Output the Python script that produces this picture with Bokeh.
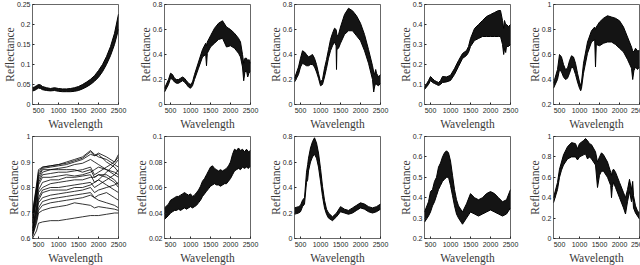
from bokeh.plotting import figure
from bokeh.layouts import gridplot
from bokeh.models import FixedTicker, Range1d
from bokeh.embed import file_html
from bokeh.resources import INLINE

# ---------------- data ----------------
WL_TICKS = [500, 1000, 1500, 2000, 2500]
WL_LABELS = ["500", "1000", "1500", "2000", "2500"]

# Panel 1
W1 = [350, 400, 450, 500, 550, 600, 700, 800, 900, 1000, 1100, 1200, 1300, 1400, 1500, 1600, 1700, 1800, 1900, 2000, 2100, 2200, 2300, 2400, 2500]
LO1 = [0.034, 0.035, 0.038, 0.041, 0.040, 0.037, 0.035, 0.034, 0.035, 0.033, 0.032, 0.032, 0.032, 0.033, 0.035, 0.039, 0.044, 0.050, 0.058, 0.068, 0.082, 0.100, 0.122, 0.150, 0.188]
HI1 = [0.042, 0.044, 0.047, 0.050, 0.049, 0.045, 0.042, 0.040, 0.042, 0.040, 0.039, 0.039, 0.040, 0.042, 0.045, 0.050, 0.056, 0.063, 0.072, 0.085, 0.100, 0.120, 0.145, 0.178, 0.226]
Y1_TICKS = [0, 0.05, 0.1, 0.15, 0.2, 0.25]
Y1_LABELS = ["0", "0.05", "0.1", "0.15", "0.2", "0.25"]

# Panel 2
W2 = [350, 450, 500, 550, 600, 650, 700, 750, 800, 850, 900, 950, 1000, 1050, 1100, 1200, 1300, 1380, 1400, 1420, 1500, 1600, 1700, 1800, 1900, 2000, 2100, 2200, 2250, 2300, 2330, 2360, 2400, 2430, 2460, 2500]
LO2 = [0.10, 0.16, 0.21, 0.20, 0.18, 0.17, 0.17, 0.18, 0.19, 0.18, 0.16, 0.14, 0.13, 0.15, 0.20, 0.29, 0.38, 0.40, 0.31, 0.41, 0.46, 0.49, 0.52, 0.53, 0.46, 0.47, 0.45, 0.41, 0.38, 0.30, 0.19, 0.26, 0.27, 0.22, 0.25, 0.27]
HI2 = [0.13, 0.20, 0.25, 0.24, 0.21, 0.20, 0.20, 0.21, 0.22, 0.21, 0.19, 0.17, 0.16, 0.18, 0.24, 0.34, 0.44, 0.49, 0.47, 0.50, 0.55, 0.61, 0.65, 0.67, 0.62, 0.60, 0.57, 0.53, 0.50, 0.40, 0.33, 0.37, 0.37, 0.35, 0.36, 0.33]
Y2_TICKS = [0, 0.2, 0.4, 0.6, 0.8]
Y2_LABELS = ["0", "0.2", "0.4", "0.6", "0.8"]

# Panel 3
W3 = [350, 450, 500, 550, 600, 650, 700, 750, 800, 850, 900, 950, 1000, 1050, 1100, 1150, 1200, 1250, 1300, 1350, 1390, 1400, 1410, 1450, 1500, 1600, 1700, 1800, 1900, 2000, 2100, 2200, 2300, 2330, 2350, 2380, 2400, 2450, 2500]
LO3 = [0.18, 0.24, 0.30, 0.33, 0.32, 0.31, 0.31, 0.32, 0.32, 0.30, 0.26, 0.21, 0.15, 0.16, 0.22, 0.29, 0.37, 0.43, 0.47, 0.50, 0.47, 0.28, 0.44, 0.45, 0.49, 0.56, 0.59, 0.59, 0.55, 0.51, 0.43, 0.33, 0.20, 0.10, 0.14, 0.17, 0.16, 0.15, 0.17]
HI3 = [0.21, 0.30, 0.37, 0.43, 0.42, 0.40, 0.38, 0.39, 0.40, 0.37, 0.32, 0.25, 0.18, 0.20, 0.29, 0.36, 0.44, 0.52, 0.57, 0.61, 0.60, 0.58, 0.55, 0.56, 0.62, 0.72, 0.77, 0.75, 0.71, 0.65, 0.56, 0.44, 0.31, 0.26, 0.24, 0.28, 0.25, 0.22, 0.24]
Y3_TICKS = [0, 0.2, 0.4, 0.6, 0.8]
Y3_LABELS = ["0", "0.2", "0.4", "0.6", "0.8"]

# Panel 4
W4 = [350, 450, 500, 550, 600, 650, 700, 750, 800, 900, 1000, 1100, 1200, 1300, 1400, 1450, 1500, 1600, 1700, 1800, 1900, 2000, 2100, 2200, 2250, 2300, 2330, 2350, 2380, 2400, 2450, 2500]
LO4 = [0.075, 0.10, 0.12, 0.11, 0.105, 0.10, 0.095, 0.10, 0.11, 0.113, 0.12, 0.15, 0.19, 0.23, 0.245, 0.26, 0.29, 0.32, 0.33, 0.34, 0.34, 0.34, 0.34, 0.34, 0.34, 0.30, 0.25, 0.28, 0.26, 0.29, 0.29, 0.30]
HI4 = [0.085, 0.12, 0.14, 0.13, 0.12, 0.115, 0.11, 0.12, 0.14, 0.138, 0.146, 0.18, 0.22, 0.255, 0.27, 0.29, 0.33, 0.38, 0.40, 0.42, 0.44, 0.45, 0.46, 0.47, 0.47, 0.42, 0.38, 0.42, 0.40, 0.40, 0.39, 0.40]
Y4_TICKS = [0, 0.1, 0.2, 0.3, 0.4, 0.5]
Y4_LABELS = ["0", "0.1", "0.2", "0.3", "0.4", "0.5"]

# Panel 5
W5 = [350, 450, 500, 550, 600, 650, 700, 750, 800, 850, 900, 950, 1000, 1030, 1050, 1100, 1200, 1300, 1380, 1400, 1420, 1500, 1600, 1700, 1800, 1900, 2000, 2100, 2200, 2300, 2330, 2360, 2400, 2450, 2500]
LO5 = [0.33, 0.40, 0.48, 0.46, 0.42, 0.40, 0.41, 0.45, 0.50, 0.49, 0.44, 0.38, 0.33, 0.31, 0.33, 0.45, 0.61, 0.70, 0.72, 0.50, 0.68, 0.67, 0.69, 0.70, 0.70, 0.68, 0.65, 0.62, 0.56, 0.49, 0.40, 0.47, 0.50, 0.48, 0.50]
HI5 = [0.37, 0.48, 0.60, 0.58, 0.52, 0.48, 0.49, 0.55, 0.59, 0.58, 0.53, 0.45, 0.38, 0.35, 0.38, 0.53, 0.70, 0.79, 0.82, 0.80, 0.82, 0.86, 0.89, 0.91, 0.90, 0.89, 0.87, 0.82, 0.74, 0.66, 0.63, 0.62, 0.65, 0.63, 0.63]
Y5_TICKS = [0.2, 0.4, 0.6, 0.8, 1.0]
Y5_LABELS = ["0.2", "0.4", "0.6", "0.8", "1"]

# Panel 6 (individual spectra)
W6 = [350, 450, 500, 600, 800, 1000, 1200, 1400, 1600, 1800, 1900, 2000, 2200, 2400, 2500]
S6 = [
    [0.70, 0.80, 0.86, 0.88, 0.885, 0.89, 0.90, 0.91, 0.92, 0.945, 0.93, 0.92, 0.91, 0.89, 0.88],
    [0.70, 0.81, 0.87, 0.88, 0.885, 0.89, 0.895, 0.905, 0.915, 0.94, 0.925, 0.93, 0.90, 0.88, 0.86],
    [0.69, 0.79, 0.85, 0.875, 0.88, 0.885, 0.89, 0.90, 0.91, 0.93, 0.925, 0.935, 0.92, 0.90, 0.92],
    [0.68, 0.78, 0.84, 0.87, 0.87, 0.875, 0.88, 0.89, 0.895, 0.91, 0.90, 0.89, 0.87, 0.86, 0.85],
    [0.67, 0.77, 0.83, 0.86, 0.87, 0.87, 0.87, 0.87, 0.86, 0.87, 0.84, 0.85, 0.85, 0.83, 0.81],
    [0.66, 0.76, 0.82, 0.85, 0.855, 0.86, 0.86, 0.865, 0.87, 0.88, 0.85, 0.86, 0.88, 0.90, 0.93],
    [0.66, 0.75, 0.81, 0.84, 0.84, 0.845, 0.85, 0.845, 0.85, 0.86, 0.87, 0.88, 0.87, 0.85, 0.84],
    [0.64, 0.73, 0.79, 0.82, 0.83, 0.83, 0.84, 0.84, 0.845, 0.85, 0.82, 0.83, 0.86, 0.89, 0.91],
    [0.64, 0.72, 0.78, 0.80, 0.815, 0.82, 0.825, 0.83, 0.83, 0.84, 0.84, 0.85, 0.84, 0.82, 0.80],
    [0.63, 0.71, 0.76, 0.79, 0.80, 0.80, 0.805, 0.81, 0.815, 0.82, 0.80, 0.81, 0.83, 0.85, 0.87],
    [0.63, 0.70, 0.75, 0.78, 0.79, 0.79, 0.79, 0.80, 0.80, 0.81, 0.82, 0.83, 0.81, 0.79, 0.78],
    [0.62, 0.69, 0.74, 0.76, 0.77, 0.775, 0.78, 0.785, 0.79, 0.80, 0.78, 0.79, 0.80, 0.81, 0.82],
    [0.62, 0.68, 0.72, 0.745, 0.755, 0.76, 0.765, 0.77, 0.775, 0.78, 0.76, 0.77, 0.78, 0.76, 0.75],
    [0.61, 0.67, 0.71, 0.73, 0.74, 0.745, 0.75, 0.755, 0.76, 0.77, 0.76, 0.75, 0.74, 0.73, 0.72],
    [0.61, 0.66, 0.70, 0.71, 0.72, 0.725, 0.73, 0.74, 0.735, 0.73, 0.72, 0.725, 0.72, 0.715, 0.71],
    [0.60, 0.63, 0.66, 0.665, 0.67, 0.67, 0.675, 0.68, 0.685, 0.69, 0.69, 0.69, 0.695, 0.70, 0.70],
]
Y6_TICKS = [0.6, 0.7, 0.8, 0.9, 1.0]
Y6_LABELS = ["0.6", "0.7", "0.8", "0.9", "1"]

# Panel 7
W7 = [350, 450, 500, 550, 600, 650, 700, 750, 800, 850, 900, 950, 1000, 1050, 1100, 1150, 1200, 1250, 1300, 1350, 1400, 1450, 1500, 1550, 1600, 1650, 1700, 1750, 1800, 1850, 1900, 1950, 2000, 2050, 2100, 2150, 2200, 2250, 2300, 2350, 2400, 2450, 2500]
LO7 = [0.035, 0.038, 0.040, 0.041, 0.042, 0.042, 0.043, 0.042, 0.043, 0.044, 0.043, 0.044, 0.045, 0.044, 0.045, 0.046, 0.048, 0.050, 0.053, 0.055, 0.057, 0.059, 0.061, 0.062, 0.063, 0.062, 0.062, 0.061, 0.062, 0.063, 0.063, 0.065, 0.067, 0.070, 0.073, 0.074, 0.075, 0.074, 0.076, 0.075, 0.076, 0.075, 0.077]
HI7 = [0.044, 0.047, 0.050, 0.051, 0.052, 0.053, 0.053, 0.054, 0.055, 0.056, 0.055, 0.054, 0.055, 0.053, 0.054, 0.056, 0.058, 0.061, 0.065, 0.067, 0.070, 0.073, 0.076, 0.077, 0.075, 0.074, 0.073, 0.074, 0.073, 0.074, 0.075, 0.077, 0.080, 0.086, 0.090, 0.089, 0.091, 0.089, 0.090, 0.088, 0.090, 0.088, 0.089]
Y7_TICKS = [0.02, 0.04, 0.06, 0.08, 0.1]
Y7_LABELS = ["0.02", "0.04", "0.06", "0.08", "0.1"]

# Panel 8
W8 = [350, 450, 500, 550, 600, 650, 680, 700, 750, 800, 850, 900, 950, 1000, 1050, 1100, 1150, 1200, 1300, 1400, 1500, 1600, 1700, 1800, 1900, 2000, 2100, 2200, 2300, 2400, 2500]
LO8 = [0.19, 0.20, 0.21, 0.25, 0.27, 0.44, 0.46, 0.53, 0.60, 0.64, 0.66, 0.63, 0.56, 0.45, 0.33, 0.24, 0.19, 0.16, 0.14, 0.17, 0.21, 0.20, 0.19, 0.20, 0.22, 0.24, 0.23, 0.21, 0.20, 0.21, 0.23]
HI8 = [0.24, 0.25, 0.26, 0.30, 0.32, 0.52, 0.58, 0.63, 0.71, 0.76, 0.79, 0.75, 0.67, 0.55, 0.41, 0.30, 0.23, 0.20, 0.17, 0.20, 0.25, 0.23, 0.22, 0.24, 0.26, 0.28, 0.27, 0.25, 0.24, 0.25, 0.27]
Y8_TICKS = [0, 0.2, 0.4, 0.6, 0.8]
Y8_LABELS = ["0", "0.2", "0.4", "0.6", "0.8"]

# Panel 9
W9 = [350, 450, 500, 550, 600, 650, 700, 750, 800, 850, 900, 950, 1000, 1050, 1100, 1150, 1200, 1300, 1400, 1500, 1600, 1700, 1800, 1900, 2000, 2100, 2200, 2300, 2400, 2500]
LO9 = [0.28, 0.31, 0.33, 0.36, 0.38, 0.41, 0.44, 0.46, 0.48, 0.49, 0.50, 0.50, 0.46, 0.41, 0.36, 0.32, 0.30, 0.27, 0.30, 0.33, 0.32, 0.31, 0.32, 0.33, 0.34, 0.33, 0.32, 0.31, 0.32, 0.35]
HI9 = [0.33, 0.38, 0.43, 0.44, 0.48, 0.50, 0.55, 0.57, 0.60, 0.62, 0.63, 0.62, 0.58, 0.51, 0.44, 0.39, 0.36, 0.33, 0.37, 0.42, 0.40, 0.39, 0.40, 0.42, 0.43, 0.42, 0.40, 0.38, 0.39, 0.44]
Y9_TICKS = [0.2, 0.3, 0.4, 0.5, 0.6, 0.7]
Y9_LABELS = ["0.2", "0.3", "0.4", "0.5", "0.6", "0.7"]

# Panel 10
W10 = [350, 450, 500, 550, 600, 700, 800, 900, 950, 1000, 1100, 1150, 1200, 1250, 1300, 1400, 1450, 1500, 1550, 1600, 1700, 1780, 1800, 1820, 1850, 1900, 2000, 2100, 2150, 2200, 2250, 2300, 2330, 2350, 2400, 2450, 2500]
LO10 = [0.35, 0.48, 0.60, 0.67, 0.72, 0.78, 0.80, 0.80, 0.77, 0.80, 0.82, 0.83, 0.78, 0.80, 0.78, 0.72, 0.50, 0.62, 0.66, 0.66, 0.60, 0.52, 0.40, 0.50, 0.55, 0.50, 0.40, 0.30, 0.24, 0.36, 0.46, 0.36, 0.42, 0.30, 0.25, 0.22, 0.19]
HI10 = [0.40, 0.55, 0.68, 0.75, 0.82, 0.90, 0.94, 0.93, 0.88, 0.93, 0.96, 0.98, 0.96, 0.93, 0.92, 0.85, 0.75, 0.80, 0.84, 0.82, 0.75, 0.65, 0.62, 0.66, 0.68, 0.65, 0.55, 0.45, 0.40, 0.48, 0.58, 0.48, 0.56, 0.42, 0.32, 0.27, 0.25]
Y10_TICKS = [0, 0.2, 0.4, 0.6, 0.8, 1.0]
Y10_LABELS = ["0", "0.2", "0.4", "0.6", "0.8", "1"]

PANELS = [
    (W1, LO1, HI1, None, Y1_TICKS, Y1_LABELS),
    (W2, LO2, HI2, None, Y2_TICKS, Y2_LABELS),
    (W3, LO3, HI3, None, Y3_TICKS, Y3_LABELS),
    (W4, LO4, HI4, None, Y4_TICKS, Y4_LABELS),
    (W5, LO5, HI5, None, Y5_TICKS, Y5_LABELS),
    (W6, None, None, S6, Y6_TICKS, Y6_LABELS),
    (W7, LO7, HI7, None, Y7_TICKS, Y7_LABELS),
    (W8, LO8, HI8, None, Y8_TICKS, Y8_LABELS),
    (W9, LO9, HI9, None, Y9_TICKS, Y9_LABELS),
    (W10, LO10, HI10, None, Y10_TICKS, Y10_LABELS),
]

# ---------------- styling / layout ----------------
RIGHT_BORDERS = [14, 15, 15, 14, 7]
AX = "#262626"


def make_fig(i, panel):
    w, lo, hi, series, yt, yl = panel
    row, col = divmod(i, 5)
    p = figure(
        output_backend="svg", toolbar_location=None,
        frame_width=86, frame_height=100 if row == 0 else 102,
        min_border_left=29, min_border_right=RIGHT_BORDERS[col],
        min_border_top=4, min_border_bottom=28 if row == 0 else 27,
        x_range=Range1d(350, 2500), y_range=Range1d(yt[0], yt[-1]),
        background_fill_color="white", border_fill_color="white",
    )
    p.grid.visible = False
    p.outline_line_color = AX
    p.outline_line_width = 0.7
    if series is None:
        p.varea(x=w, y1=lo, y2=hi, fill_color="black", fill_alpha=0.92)
        p.line(w, lo, line_color="black", line_width=1)
        p.line(w, hi, line_color="black", line_width=1)
    else:
        for s in series:
            p.line(w, s, line_color="black", line_width=0.8)

    p.xaxis.ticker = FixedTicker(ticks=WL_TICKS)
    p.xaxis.major_label_overrides = dict(zip(WL_TICKS, WL_LABELS))
    p.yaxis.ticker = FixedTicker(ticks=yt)
    p.yaxis.major_label_overrides = dict(zip(yt, yl))
    p.xaxis.axis_label = "Wavelength"
    p.yaxis.axis_label = "Reflectance"
    for ax in (p.xaxis[0], p.yaxis[0]):
        ax.axis_line_color = None
        ax.major_tick_in = 2
        ax.major_tick_out = 0
        ax.major_tick_line_color = AX
        ax.minor_tick_line_color = None
        ax.major_label_text_font = "Liberation Sans"
        ax.major_label_text_font_size = "7px"
        ax.major_label_text_color = AX
        ax.axis_label_text_font = "Liberation Serif"
        ax.axis_label_text_font_size = "11.5px"
        ax.axis_label_text_font_style = "normal"
        ax.axis_label_text_color = "#3a3a3a"
    p.xaxis.major_label_standoff = 3
    p.xaxis.axis_label_standoff = 2
    p.yaxis.major_label_standoff = 2
    p.yaxis.axis_label_standoff = -2
    return p


figs = [make_fig(i, pn) for i, pn in enumerate(PANELS)]
grid = gridplot(figs, ncols=5, toolbar_location=None)

open("out.html", "w").write(file_html(grid, INLINE))
